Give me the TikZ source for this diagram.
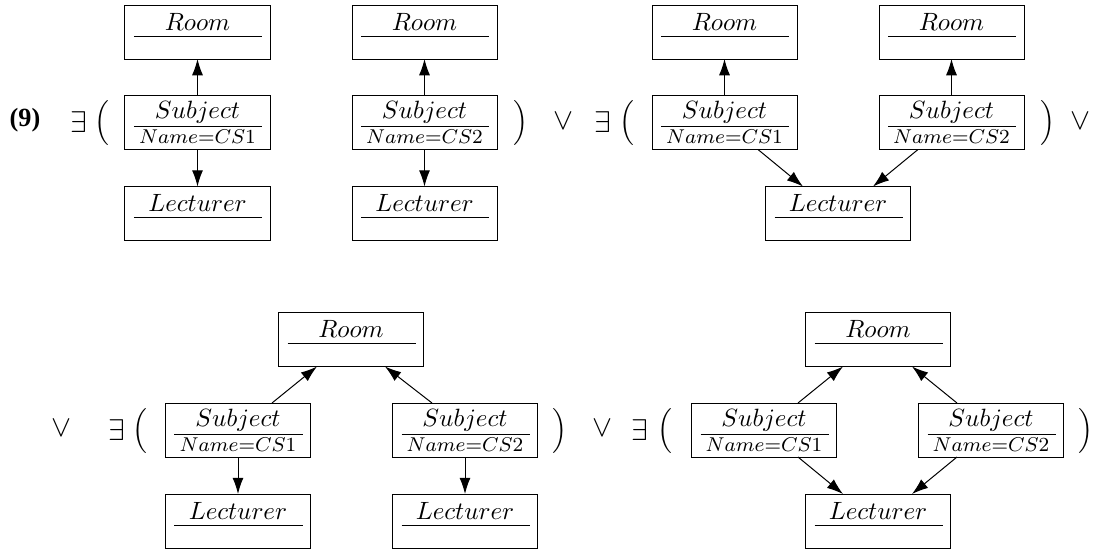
\documentclass[tikz,border=0pt]{standalone}
\usepackage{fontspec}
\newfontfamily\timesf{Liberation Serif}
\usetikzlibrary{arrows.meta,calc}
\tikzset{
  umlbox/.style={draw, line width=0.4pt, minimum width=58pt, minimum height=21.6pt, inner sep=0pt, outer sep=0pt},
  rel/.style={-{Latex[length=6.5pt,width=4.4pt]}, line width=0.4pt},
  sym/.style={font=\fontsize{13}{15}\selectfont, inner sep=0pt},
  paren/.style={font=\fontsize{10.5}{12}\selectfont, inner sep=0pt},
  ttl/.style={anchor=base, inner sep=0pt, font=\fontsize{10.3}{12}\selectfont},
  attr/.style={anchor=base, inner sep=0pt, font=\footnotesize},
  sep/.style={line width=0.4pt},
}
% plain class box: name, cx, cy, title
\newcommand\clsbox[4]{%
  \node[umlbox] (#1) at (#2,#3) {};
  \draw[sep] ($(#1.north west)+(9,31)$) -- ($(#1.north east)+(-8,31)$);
  \node[ttl] (#1-t) at ($(#1.north)+(0,25)$) {$#4$};
}
% subject box with attribute: name, cx, cy, number
\newcommand\subjbox[4]{%
  \node[umlbox] (#1) at (#2,#3) {};
  \draw[sep] ($(#1.north west)+(9,31)$) -- ($(#1.north east)+(-8,31)$);
  \node[ttl] (#1-t) at ($(#1.north)+(0,23)$) {$Subject$};
  \node[attr] (#1-a) at ($(#1.north)+(0,48)$) {$Name{=}CS#4$};
}
\begin{document}
\begin{tikzpicture}[x=0.4pt,y=-0.4pt]
\useasboundingbox (0,0) rectangle (1095,549);

% ---------- top row ----------
\node[inner sep=0pt, font=\timesf\bfseries\fontsize{10.5}{12}\selectfont] (lbl) at (25,120) {(9)};
\node[sym] (e1) at (79,122) {$\exists$};
\node[paren] (p1) at (102,123) {$\Big($};

\clsbox{ra}{197.5}{32}{Room}
\subjbox{sa}{197.5}{122.5}{1}
\clsbox{la}{197.5}{213.5}{Lecturer}
\draw[rel] (sa.north) -- (ra.south);
\draw[rel] (sa.south) -- (la.north);

\clsbox{rb}{424.5}{32}{Room}
\subjbox{sb}{424.5}{122.5}{2}
\clsbox{lb}{424.5}{213.5}{Lecturer}
\draw[rel] (sb.north) -- (rb.south);
\draw[rel] (sb.south) -- (lb.north);

\node[paren] (p2) at (521,123) {$\Big)$};
\node[sym] (o1) at (563,121) {$\vee$};
\node[sym] (e2) at (603,122) {$\exists$};
\node[paren] (p3) at (627,123) {$\Big($};

\clsbox{rc}{724.5}{32}{Room}
\subjbox{sc}{724.5}{122.5}{1}
\clsbox{rd}{951.5}{32}{Room}
\subjbox{sd}{951.5}{122.5}{2}
\clsbox{lc}{838}{213.5}{Lecturer}
\draw[rel] (sc.north) -- (rc.south);
\draw[rel] (sd.north) -- (rd.south);
\draw[rel] ($(sc.south)+(33.5,0)$) -- ($(lc.north)+(-35,0)$);
\draw[rel] ($(sd.south)+(-33.5,0)$) -- ($(lc.north)+(35,0)$);

\node[paren] (p4) at (1048,123) {$\Big)$};
\node[sym] (o2) at (1080,121) {$\vee$};

% ---------- bottom row ----------
\node[sym] (o3) at (61,428) {$\vee$};
\node[sym] (e3) at (117,430) {$\exists$};
\node[paren] (p5) at (140,431) {$\Big($};

\clsbox{re}{351}{339.5}{Room}
\subjbox{se}{238}{430}{1}
\subjbox{sf}{465}{430}{2}
\clsbox{le}{238}{521}{Lecturer}
\clsbox{lf}{465}{521}{Lecturer}
\draw[rel] ($(se.north)+(34,0)$) -- ($(re.south)+(-34,0)$);
\draw[rel] ($(sf.north)+(-33,0)$) -- ($(re.south)+(34,0)$);
\draw[rel] (se.south) -- (le.north);
\draw[rel] (sf.south) -- (lf.north);

\node[paren] (p6) at (560,431) {$\Big)$};
\node[sym] (o4) at (602,428) {$\vee$};
\node[sym] (e4) at (640,430) {$\exists$};
\node[paren] (p7) at (665,431) {$\Big($};

\clsbox{rg}{878}{339.5}{Room}
\subjbox{sg}{764}{430}{1}
\subjbox{sh}{991}{430}{2}
\clsbox{lg}{878}{521}{Lecturer}
\draw[rel] ($(sg.north)+(34,0)$) -- ($(rg.south)+(-35,0)$);
\draw[rel] ($(sh.north)+(-34,0)$) -- ($(rg.south)+(34,0)$);
\draw[rel] ($(sg.south)+(34,0)$) -- ($(lg.north)+(-35,0)$);
\draw[rel] ($(sh.south)+(-34,0)$) -- ($(lg.north)+(34,0)$);

\node[paren] (p8) at (1086,431) {$\Big)$};
\end{tikzpicture}
\end{document}
